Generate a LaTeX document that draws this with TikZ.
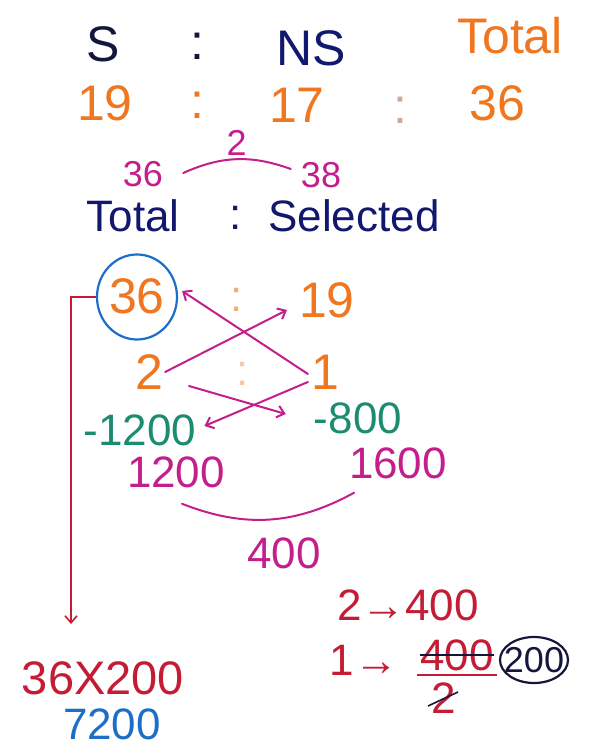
\documentclass[tikz,border=0pt]{standalone}
\usepackage{fontspec}
\setmainfont{Liberation Sans}
\usetikzlibrary{arrows.meta}
\usetikzlibrary{shapes}

\definecolor{inkblack}{RGB}{20,22,60}
\definecolor{inknavy}{RGB}{18,24,110}
\definecolor{inkorange}{RGB}{240,118,32}
\definecolor{inkpink}{RGB}{196,30,140}
\definecolor{inkgreen}{RGB}{28,140,112}
\definecolor{inkred}{RGB}{196,28,52}
\definecolor{inkblue}{RGB}{28,110,200}
\definecolor{inkdots}{RGB}{200,170,150}

\tikzset{
  big/.style={font=\fontsize{50}{50}\selectfont, inner sep=0pt},
  hand/.style={font=\fontsize{44}{44}\selectfont, inner sep=0pt},
  small/.style={font=\fontsize{36}{36}\selectfont, inner sep=0pt},
  pinkline/.style={draw=inkpink, line width=2pt, line cap=round},
  pinkarrow/.style={pinkline, -{Straight Barb[length=7pt,width=12pt]}}
}

\begin{document}
\begin{tikzpicture}[x=1pt,y=1pt]
\useasboundingbox[fill=white] (0,0) rectangle (599,-751);

% ratio of S and NS
\node[big,inkblack] (s) at (103,-44) {S};
\node[big,inkblack] (c1) at (197,-46) {:};
\node[big,inknavy] (ns) at (311,-48) {NS};
\node[big,inkorange] (tot) at (510,-36) {Total};
\node[big,inkorange] (n19) at (105,-103) {19};
\node[big,inkorange] (c2) at (197,-105) {:};
\node[big,inkorange] (n17) at (297,-105) {17};
\node[big,inkdots] (c3) at (400,-110) {:};
\node[big,inkorange] (n36) at (497,-103) {36};

% total vs selected
\node[small,inkpink] (a36) at (143,-174) {36};
\node[small,inkpink] (a38) at (321,-175) {38};
\draw[pinkline] ([xshift=20pt,yshift=1pt]a36.east) to[bend left=22] node[small,inkpink,above=3pt] (diff) {2} ([xshift=-10pt,yshift=6pt]a38.west);
\node[hand,inknavy] (ttl) at (133,-216) {Total};
\node[hand,inknavy] (c4) at (236,-218) {:};
\node[hand,inknavy] (sel) at (354,-216) {Selected};

% the cross
\node[big,inkorange] (b36) at (137,-296) {36};
\node[draw=inkblue, line width=2.2pt, ellipse, minimum width=80pt, minimum height=85pt] (ring) at (137,-297) {};
\node[hand,inkorange!60] (c5) at (237,-300) {:};
\node[big,inkorange] (b19) at (327,-300) {19};
\node[big,inkorange] (two) at (149,-372) {2};
\node[hand,inkorange!40] (c6) at (243,-374) {:};
\node[big,inkorange] (one) at (325,-372) {1};
\node[hand,inkgreen] (g1200) at (140,-430) {-1200};
\node[hand,inkgreen] (g800) at (358,-418) {-800};

\draw[pinkarrow] ([xshift=2pt]two.east) -- ([xshift=-12pt,yshift=-10pt]b19.west);
\draw[pinkarrow] ([xshift=-3pt,yshift=-2pt]one.west) -- ([xshift=4pt,yshift=6pt]ring.east);
\draw[pinkarrow] ([xshift=40pt,yshift=-14pt]two.center) -- ([xshift=-28pt,yshift=4pt]g800.west);
\draw[pinkarrow] ([xshift=-3pt,yshift=-10pt]one.west) -- ([xshift=8pt,yshift=4pt]g1200.east);

% difference
\node[hand,inkpink] (p1200) at (176,-472) {1200};
\node[hand,inkpink] (p1600) at (398,-463) {1600};
\draw[pinkline] ([xshift=6pt,yshift=-16pt]p1200.south) to[bend right=25] ([xshift=-44pt,yshift=-14pt]p1600.south);
\node[hand,inkpink] (p400) at (284,-553) {400};

% result
\coordinate (drop) at (71,-624);
\draw[draw=inkred, line width=1.6pt, -{Straight Barb[length=7pt,width=12pt]}] (ring.west) -| (drop);
\node[hand,inkred,font=\fontsize{47}{47}\selectfont] (prod) at (103,-678) {36X200};
\node[hand,inkblue] (ans) at (112,-724) {7200};

% one part
\node[hand,inkred] (r2) at (408,-605) {2→400};
\node[hand,inkred] (r1) at (364,-660) {1→};
\node[hand,inkred] (frn) at (457,-655) {400};
\node[hand,inkred] (frd) at (444,-698) {2};
\draw[inkred, line width=1.6pt] ([xshift=-3pt,yshift=-4pt]frn.south west) -- ([xshift=3pt,yshift=-4pt]frn.south east);
\draw[inkblack, line width=1.6pt] (frn.west) -- (frn.east);
\draw[inkblack, line width=1.6pt] ([xshift=-16pt,yshift=-8pt]frd.center) -- ([xshift=14pt,yshift=6pt]frd.center);
\node[small,inkblack] (unit) at (534,-660) {200};
\draw[inkblack, line width=2.2pt] (unit.center) ellipse (34pt and 23pt);
\end{tikzpicture}
\end{document}
